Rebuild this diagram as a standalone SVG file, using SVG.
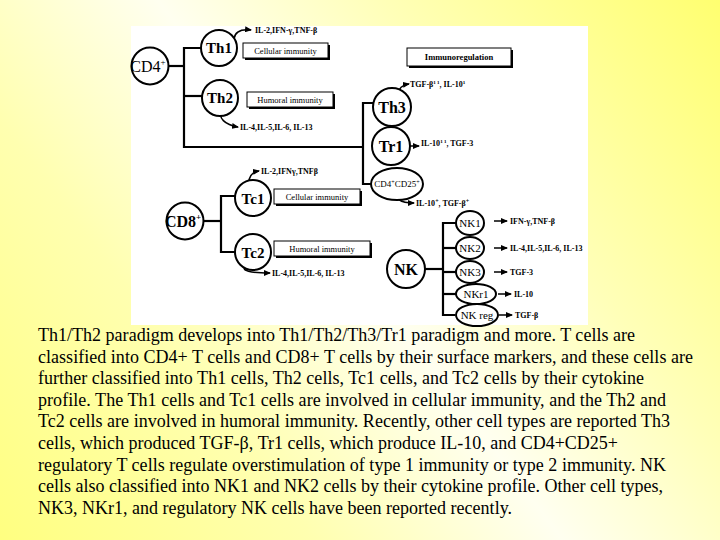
<svg xmlns="http://www.w3.org/2000/svg" width="720" height="540" viewBox="0 0 720 540">
<defs>
<linearGradient id="bg" x1="720" y1="0" x2="0" y2="540" gradientUnits="userSpaceOnUse">
<stop offset="0" stop-color="#FFFF70"/>
<stop offset="0.3" stop-color="#FFFFB8"/>
<stop offset="0.5" stop-color="#FFFFF0"/>
<stop offset="0.72" stop-color="#FFFFB0"/>
<stop offset="1" stop-color="#FFFF80"/>
</linearGradient>
<marker id="ah" markerWidth="7" markerHeight="6" refX="6" refY="3" orient="auto" markerUnits="userSpaceOnUse">
<path d="M0,0 L7,3 L0,6 z" fill="#000"/>
</marker>
<style>
text{font-family:'Liberation Serif','Times New Roman','DejaVu Serif',serif}
.c{fill:#fff;stroke:#000;stroke-width:2}
.l{fill:none;stroke:#000;stroke-width:2.2}
.a{fill:none;stroke:#000;stroke-width:1.5;marker-end:url(#ah)}
.lab{font-weight:bold;text-anchor:middle;fill:#000}
.sm{text-anchor:middle;fill:#000}
.cy{font-weight:bold;font-size:8px;fill:#000}
.bx{font-size:8.5px;text-anchor:middle;fill:#000}
.sh{fill:#000}
.bf{fill:#fff;stroke:#000;stroke-width:1}
.p{font-size:18px;fill:#000}
</style>
</defs>
<rect x="0" y="0" width="720" height="540" fill="url(#bg)"/>
<rect x="131" y="26" width="457" height="299" fill="#fff"/>

<g id="connectors">
<path class="l" d="M168.5,66 H184"/>
<path class="l" d="M201,48 H184 V147 H363"/>
<path class="l" d="M184,96 H202"/>
<path class="l" d="M373,103 H363 V184 H371"/>
<path class="l" d="M203.5,221 H221"/>
<path class="l" d="M235,196 H221 V252 H235"/>
<path class="l" d="M425,269 H443"/>
<path class="l" d="M456,223 H443 V315 H455"/>
<path class="l" d="M443,248 H456"/>
<path class="l" d="M443,272 H456"/>
<path class="l" d="M443,294 H456"/>
<path class="a" d="M234,39 C235,31 242,29 251,30"/>
<path class="a" d="M223,109 C216,118 226,125 238,127"/>
<path class="a" d="M397,95 C399,88 402,85 409,84"/>
<path class="a" d="M410,146 H419"/>
<path class="a" d="M401,193 C393,198 400,203 414,203"/>
<path class="a" d="M249,186 C248,177 252,172 259,171"/>
<path class="a" d="M247,265 C238,271 252,273 270,273"/>
<path class="a" d="M494,221 H507"/>
<path class="a" d="M494,248 H507"/>
<path class="a" d="M494,272 H507"/>
<path class="a" d="M498,294 H511"/>
<path class="a" d="M499,315 H512"/>
</g>

<g id="cd4">
<circle class="c" cx="150" cy="66" r="18.5"/>
<text class="sm" x="148" y="72" font-size="16">CD4<tspan font-size="9" dy="-7">+</tspan></text>
</g>
<g id="th1">
<circle class="c" cx="219" cy="48" r="18"/>
<text class="lab" x="219" y="53" font-size="15">Th1</text>
<text class="cy" x="255" y="33">IL-2,IFN-γ,TNF-β</text>
</g>
<g id="th2">
<circle class="c" cx="220" cy="98" r="18"/>
<text class="lab" x="220" y="103" font-size="15">Th2</text>
<text class="cy" x="240" y="130">IL-4,IL-5,IL-6, IL-13</text>
</g>
<g id="box-th1">
<rect class="sh" x="245" y="45" width="85" height="15"/>
<rect class="bf" x="243" y="43" width="85" height="15"/>
<text class="bx" x="285.5" y="53.5">Cellular immunity</text>
</g>
<g id="box-th2">
<rect class="sh" x="249" y="94" width="86" height="15"/>
<rect class="bf" x="247" y="92" width="86" height="15"/>
<text class="bx" x="290" y="102.5">Humoral immunity</text>
</g>
<g id="box-immunoreg">
<rect class="sh" x="409" y="50" width="104" height="18"/>
<rect class="bf" x="407" y="48" width="104" height="18"/>
<text class="bx" x="459" y="60" font-weight="bold" font-size="9">Immunoregulation</text>
</g>
<g id="th3">
<circle class="c" cx="392" cy="107" r="19"/>
<text class="lab" x="392" y="112.5" font-size="16">Th3</text>
<text class="cy" x="410" y="87">TGF-β<tspan font-size="5" dy="-3">1  1</tspan><tspan dy="3">, IL-10</tspan><tspan font-size="5" dy="-3">1</tspan></text>
</g>
<g id="tr1">
<circle class="c" cx="391" cy="146" r="19"/>
<text class="lab" x="391" y="152" font-size="16">Tr1</text>
<text class="cy" x="421" y="146">IL-10<tspan font-size="5" dy="-3">1  1</tspan><tspan dy="3">, TGF-3</tspan></text>
</g>
<g id="cd4cd25">
<ellipse class="c" cx="397" cy="184" rx="26" ry="16"/>
<text class="sm" x="397" y="187" font-size="9">CD4<tspan font-size="6" dy="-3">+</tspan><tspan dy="3">CD25</tspan><tspan font-size="6" dy="-3">+</tspan></text>
<text class="cy" x="416" y="206">IL-10<tspan font-size="6" dy="-3">+</tspan><tspan dy="3">, TGF-β</tspan><tspan font-size="6" dy="-3">+</tspan></text>
</g>
<g id="cd8">
<circle class="c" cx="185" cy="221" r="18.5"/>
<text class="lab" x="183" y="227" font-size="16">CD8<tspan font-size="9" dy="-7">+</tspan></text>
</g>
<g id="tc1">
<circle class="c" cx="253" cy="198" r="18"/>
<text class="lab" x="253" y="203.5" font-size="15">Tc1</text>
<text class="cy" x="261" y="174">IL-2,IFNγ,TNFβ</text>
</g>
<g id="tc2">
<circle class="c" cx="253" cy="252" r="18"/>
<text class="lab" x="253" y="257.5" font-size="15">Tc2</text>
<text class="cy" x="272" y="276">IL-4,IL-5,IL-6, IL-13</text>
</g>
<g id="box-tc1">
<rect class="sh" x="276" y="191" width="86" height="15"/>
<rect class="bf" x="274" y="189" width="86" height="15"/>
<text class="bx" x="317" y="199.5">Cellular immunity</text>
</g>
<g id="box-tc2">
<rect class="sh" x="276" y="243" width="96" height="15"/>
<rect class="bf" x="274" y="241" width="96" height="15"/>
<text class="bx" x="322" y="251.5">Humoral immunity</text>
</g>
<g id="nk">
<circle class="c" cx="406" cy="269" r="19"/>
<text class="lab" x="406" y="275" font-size="16">NK</text>
</g>
<g id="nk1">
<ellipse class="c" cx="470" cy="223" rx="14" ry="12"/>
<text class="sm" x="470" y="227" font-size="11">NK1</text>
<text class="cy" x="510" y="224">IFN-γ,TNF-β</text>
</g>
<g id="nk2">
<ellipse class="c" cx="470" cy="248" rx="14" ry="11"/>
<text class="sm" x="470" y="252" font-size="11">NK2</text>
<text class="cy" x="510" y="251">IL-4,IL-5,IL-6, IL-13</text>
</g>
<g id="nk3">
<ellipse class="c" cx="470" cy="272" rx="14" ry="11"/>
<text class="sm" x="470" y="276" font-size="11">NK3</text>
<text class="cy" x="510" y="275">TGF-3</text>
</g>
<g id="nkr1">
<ellipse class="c" cx="476" cy="294" rx="20" ry="10"/>
<text class="sm" x="476" y="298" font-size="11">NKr1</text>
<text class="cy" x="514" y="297">IL-10</text>
</g>
<g id="nkreg">
<ellipse class="c" cx="477" cy="315" rx="21" ry="11"/>
<text class="sm" x="477" y="319" font-size="11">NK reg</text>
<text class="cy" x="515" y="318">TGF-β</text>
</g>

<g id="caption">
<text class="p" x="38" y="341" textLength="597" lengthAdjust="spacing">Th1/Th2 paradigm develops into Th1/Th2/Th3/Tr1 paradigm and more. T cells are</text>
<text class="p" x="38" y="362.6" textLength="655" lengthAdjust="spacing">classified into CD4+ T cells and CD8+ T cells by their surface markers, and these cells are</text>
<text class="p" x="38" y="384.2" textLength="606" lengthAdjust="spacing">further classified into Th1 cells, Th2 cells, Tc1 cells, and Tc2 cells by their cytokine</text>
<text class="p" x="38" y="405.8" textLength="628" lengthAdjust="spacing">profile. The Th1 cells and Tc1 cells are involved in cellular immunity, and the Th2 and</text>
<text class="p" x="38" y="427.4" textLength="632" lengthAdjust="spacing">Tc2 cells are involved in humoral immunity. Recently, other cell types are reported Th3</text>
<text class="p" x="38" y="449" textLength="580" lengthAdjust="spacing">cells, which produced TGF-β, Tr1 cells, which produce IL-10, and CD4+CD25+</text>
<text class="p" x="38" y="470.6" textLength="628" lengthAdjust="spacing">regulatory T cells regulate overstimulation of type 1 immunity or type 2 immunity. NK</text>
<text class="p" x="38" y="492.2" textLength="625" lengthAdjust="spacing">cells also classified into NK1 and NK2 cells by their cytokine profile. Other cell types,</text>
<text class="p" x="38" y="513.8" textLength="474" lengthAdjust="spacing">NK3, NKr1, and regulatory NK cells have been reported recently.</text>
</g>
</svg>
